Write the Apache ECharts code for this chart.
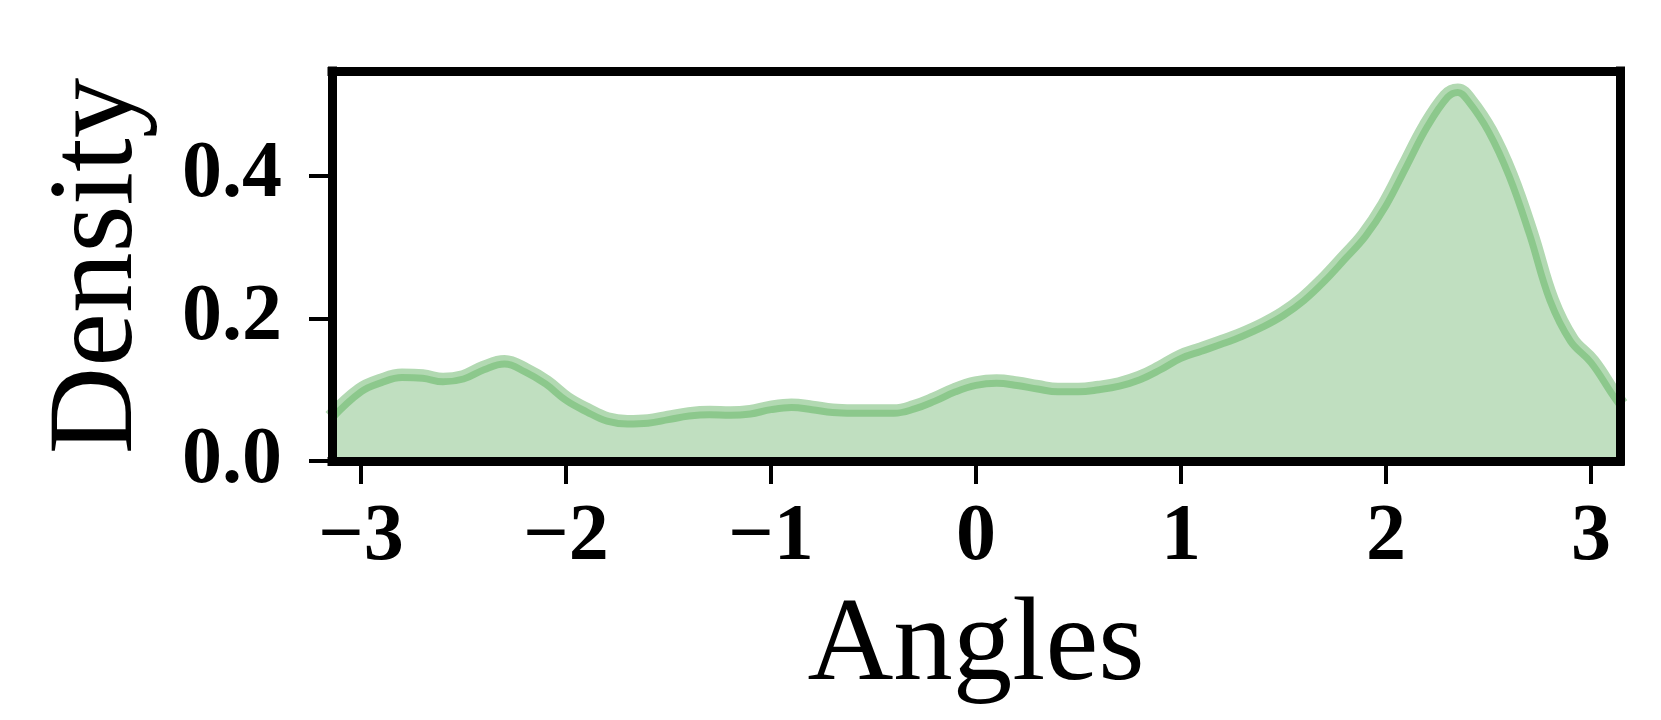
<!DOCTYPE html>
<html>
<head>
<meta charset="utf-8">
<script src="https://cdn.jsdelivr.net/npm/echarts@6/dist/echarts.min.js"></script>
<style>
    html, body {margin: 0; padding: 0; background: #fff;}
    #kde_main {width: 1661px; height: 720px;}
</style>
</head>
<body>
<div id="kde_main"></div>
<script>
// angle positions (radians) and KDE density
var angles = [-3.1416, -3.0, -2.9, -2.8, -2.7, -2.6, -2.5, -2.4, -2.3, -2.2, -2.1, -2.0, -1.9, -1.8, -1.7,
    -1.6, -1.5, -1.4, -1.3, -1.2, -1.1, -1.0, -0.9, -0.8, -0.7, -0.6, -0.5, -0.4, -0.3, -0.2, -0.1,
    0.0, 0.1, 0.2, 0.3, 0.4, 0.5, 0.6, 0.7, 0.8, 0.9, 1.0, 1.1, 1.2, 1.3, 1.4, 1.5, 1.6, 1.7, 1.8,
    1.9, 2.0, 2.1, 2.2, 2.3, 2.35, 2.4, 2.5, 2.6, 2.7, 2.8, 2.9, 3.0, 3.1, 3.1416];
var density = [0.060, 0.097, 0.110, 0.117, 0.116, 0.111, 0.115, 0.128, 0.136, 0.125, 0.108, 0.085, 0.069, 0.056, 0.052,
    0.053, 0.058, 0.063, 0.065, 0.064, 0.066, 0.072, 0.075, 0.072, 0.068, 0.067, 0.067, 0.067, 0.073, 0.084, 0.097,
    0.106, 0.109, 0.106, 0.101, 0.097, 0.097, 0.100, 0.105, 0.114, 0.128, 0.144, 0.154, 0.164, 0.175, 0.188, 0.204, 0.225, 0.252, 0.283,
    0.315, 0.358, 0.413, 0.468, 0.510, 0.517, 0.505, 0.462, 0.400, 0.318, 0.225, 0.168, 0.138, 0.095, 0.078];

var xTicks = [-3, -2, -1, 0, 1, 2, 3];
var yTicks = [0, 0.2, 0.4];

var myCharts = echarts.init(document.getElementById("kde_main"));

var points = [];
for (var i = 0; i < angles.length; i++) {
    points.push([angles[i], density[i]]);
}

var serif = '"Liberation Serif", "DejaVu Serif", serif';
var frameLine = {show: true, onZero: false, lineStyle: {color: '#000', width: 9, cap: 'square'}};

var option = {
    animation: false,
    grid: {
        left: 332,
        right: 41,
        top: 71,
        bottom: 259,
        containLabel: false
    },
    xAxis: [{
        type: 'value',
        min: -Math.PI,
        max: Math.PI,
        z: 10,
        name: 'Angles',
        nameLocation: 'middle',
        nameGap: 127,
        nameTextStyle: {fontFamily: serif, fontSize: 119, color: '#000'},
        axisLine: frameLine,
        axisTick: {show: true, length: 23, customValues: xTicks, lineStyle: {color: '#000', width: 4}},
        axisLabel: {
            customValues: xTicks,
            margin: 37,
            fontFamily: serif,
            fontWeight: 'bold',
            fontSize: 80,
            color: '#000',
            formatter: function (v) {
                return String(v).replace('-', '\u2212');
            }
        },
        splitLine: {show: false}
    }, {
        type: 'value',
        position: 'top',
        min: -Math.PI,
        max: Math.PI,
        z: 10,
        axisLine: frameLine,
        axisTick: {show: false},
        axisLabel: {show: false},
        splitLine: {show: false}
    }],
    yAxis: [{
        type: 'value',
        min: 0,
        max: 0.547,
        z: 10,
        name: 'Density',
        nameLocation: 'middle',
        nameGap: 172,
        nameTextStyle: {fontFamily: serif, fontSize: 121, color: '#000'},
        axisLine: frameLine,
        axisTick: {show: true, length: 23, customValues: yTicks, lineStyle: {color: '#000', width: 4}},
        axisLabel: {
            customValues: yTicks,
            margin: 50,
            fontFamily: serif,
            fontWeight: 'bold',
            fontSize: 80,
            color: '#000',
            formatter: function (v) {
                return v.toFixed(1);
            }
        },
        splitLine: {show: false}
    }, {
        type: 'value',
        position: 'right',
        min: 0,
        max: 0.547,
        z: 10,
        axisLine: frameLine,
        axisTick: {show: false},
        axisLabel: {show: false},
        splitLine: {show: false}
    }],
    series: [
        {
            // light halo round the curve, the fill covers its lower half
            name: 'kde_halo',
            type: 'line',
            data: points,
            smooth: 0.4,
            symbol: 'none',
            z: 1,
            lineStyle: {color: '#b2d9b2', width: 18}
        },
        {
            name: 'kde_fill',
            type: 'line',
            data: points,
            smooth: 0.4,
            symbol: 'none',
            z: 2,
            lineStyle: {width: 0},
            areaStyle: {color: '#c0dfc0', opacity: 1}
        },
        {
            name: 'kde_line',
            type: 'line',
            data: points,
            smooth: 0.4,
            symbol: 'none',
            z: 3,
            lineStyle: {color: '#8cc88c', width: 7}
        }
    ]
};
myCharts.setOption(option);
</script>
</body>
</html>
